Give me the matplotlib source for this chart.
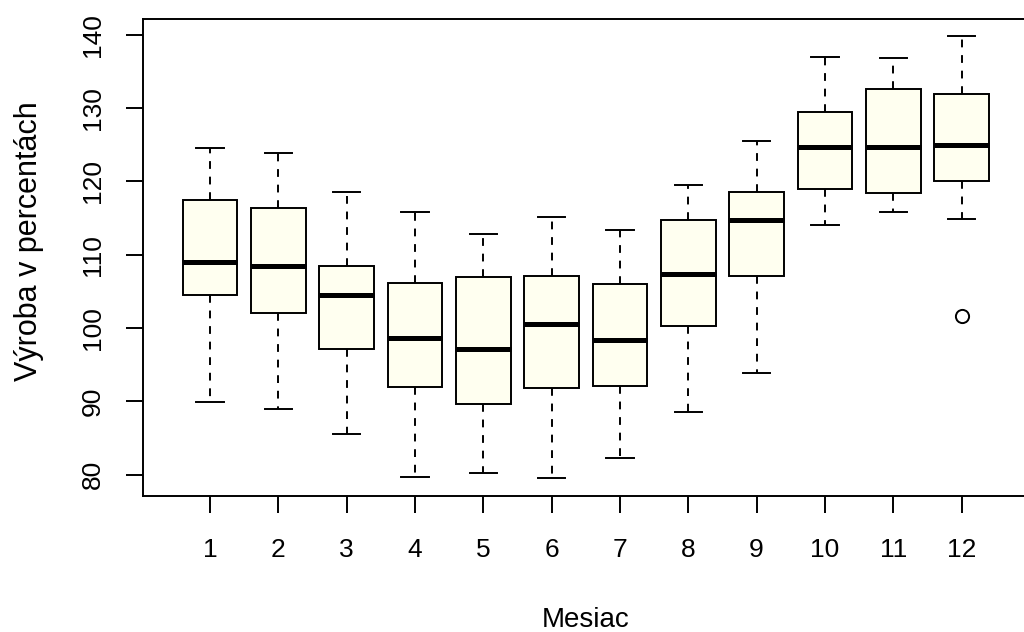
import matplotlib
matplotlib.use('Agg')
import matplotlib.pyplot as plt

plt.rcParams['font.family'] = ['Liberation Sans', 'DejaVu Sans']

# boxplot statistics per month
months = list(range(1, 13))
whisker_low = [89.9, 88.9, 85.5, 79.7, 80.2, 79.5, 82.3, 88.5, 93.9, 114.0, 115.8, 114.9]
q1 = [104.5, 102.0, 97.1, 92.0, 89.7, 91.8, 92.1, 100.3, 107.1, 118.9, 118.4, 120.1]
median = [109.0, 108.4, 104.5, 98.7, 97.1, 100.6, 98.3, 107.4, 114.7, 124.7, 124.7, 124.9]
q3 = [117.5, 116.4, 108.4, 106.1, 107.0, 107.1, 106.0, 114.7, 118.5, 129.4, 132.6, 131.9]
whisker_high = [124.5, 123.8, 118.5, 115.8, 112.8, 115.2, 113.4, 119.5, 125.5, 137.0, 136.8, 139.8]
outliers = [[], [], [], [], [], [], [], [], [], [], [], [101.7]]

stats = []
for i in range(len(months)):
    stats.append({'med': median[i], 'q1': q1[i], 'q3': q3[i],
                  'whislo': whisker_low[i], 'whishi': whisker_high[i],
                  'fliers': outliers[i], 'label': str(months[i])})

fig = plt.figure(figsize=(10.24, 6.32), dpi=100)
ax = fig.add_axes([143 / 1024, 136 / 632, (1028.5 - 143) / 1024, (496 - 18.5) / 632])

lw = 1.4
ax.bxp(stats, positions=months, widths=0.8, capwidths=0.4, patch_artist=True,
       boxprops=dict(facecolor='#FFFFF0', edgecolor='black', linewidth=lw),
       medianprops=dict(color='black', linewidth=3.6, solid_capstyle='butt'),
       whiskerprops=dict(color='black', linewidth=lw, linestyle=(0, (4, 4))),
       capprops=dict(color='black', linewidth=lw),
       flierprops=dict(marker='o', markerfacecolor='none', markeredgecolor='black',
                       markersize=9.5, markeredgewidth=lw))

lo = min(whisker_low)
hi = max(whisker_high + [max(o) for o in outliers if o])
pad = (hi - lo) * 0.04
ax.set_ylim(lo - pad, hi + pad)
ax.set_xlim(0.02, 12.98)

ax.set_yticks([80, 90, 100, 110, 120, 130, 140])
ax.set_xticks(months)
ax.set_xticklabels([str(m) for m in months])
for lab in ax.get_yticklabels():
    lab.set_rotation(90)
    lab.set_va('center')
ax.tick_params(axis='both', direction='out', length=12.2, width=lw, labelsize=19)
ax.tick_params(axis='x', pad=18)
ax.tick_params(axis='y', pad=15)
for s in ax.spines.values():
    s.set_linewidth(lw)

ax.set_xlabel('Mesiac', fontsize=20)
ax.xaxis.set_label_coords(0.4997, -0.232)
ax.set_ylabel('Výroba v percentách', fontsize=22)
ax.yaxis.set_label_coords(-0.112, 0.534)

fig.savefig('out.png', dpi=100)
